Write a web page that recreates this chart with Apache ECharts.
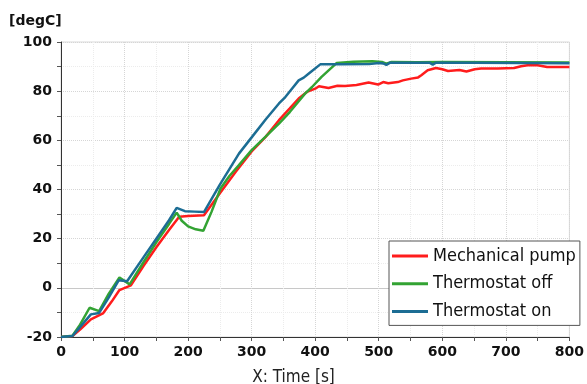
<!DOCTYPE html>
<html>
<head>
<meta charset="utf-8">
<script src="https://cdn.jsdelivr.net/npm/echarts@6/dist/echarts.min.js"></script>
<style>
  html, body { margin: 0; padding: 0; background: #fff; }
  #chart { width: 587px; height: 384px; }
</style>
</head>
<body>
<div id="chart"></div>
<script>
// Mechanical pump
const pumpTime = [0, 18, 30, 47, 66, 80, 92, 110, 130, 150, 170, 186, 200, 225, 250, 275, 300, 322, 343, 360, 374, 387, 400, 406, 421, 435, 447, 465, 484, 499, 507, 515, 530, 538, 551, 562, 567, 577, 590, 600, 609, 627, 638, 651, 661, 687, 713, 724, 734, 750, 765, 800];
const pumpTemp = [-20, -19.6, -17, -12.8, -10.4, -5.5, -0.9, 1, 9, 16.5, 23.5, 28.9, 29.2, 29.5, 38.5, 47.2, 55.5, 61.4, 68.2, 73, 77, 79.7, 81, 82, 81.3, 82.2, 82.1, 82.5, 83.5, 82.7, 83.7, 83.2, 83.7, 84.4, 85.1, 85.6, 86.5, 88.5, 89.4, 88.9, 88.2, 88.6, 88.0, 88.9, 89.2, 89.2, 89.4, 90.1, 90.5, 90.5, 89.8, 89.8];

// Thermostat off
const offTime = [0, 18, 30, 45, 60, 75, 92, 108, 130, 150, 170, 182, 190, 200, 212, 224, 237, 251, 265, 280, 300, 322, 343, 360, 384, 395, 410, 434, 460, 490, 505, 512, 520, 560, 600, 700, 800];
const offTemp = [-20, -19.5, -15, -8.1, -9.5, -2.5, 4.2, 1.4, 10.5, 18.5, 26, 30.6, 27.3, 25, 23.8, 23.2, 31, 40.4, 45.5, 49.9, 56.0, 61.5, 66.8, 71.5, 79, 81.7, 85.8, 91.5, 92, 92.2, 91.9, 91.2, 91.9, 91.8, 91.9, 91.8, 91.7];

// Thermostat on
const onTime = [0, 18, 30, 47, 60, 75, 91, 104, 130, 150, 170, 182, 195, 210, 225, 250, 280, 300, 322, 343, 353, 365, 374, 382, 390, 408, 440, 485, 500, 507, 512, 518, 560, 580, 585, 590, 650, 800];
const onTemp = [-20, -19.6, -16, -10.8, -10.2, -4, 3.1, 2.7, 12.5, 20, 27.5, 32.5, 31.2, 31, 30.8, 42, 54.6, 61.2, 68.5, 75, 77.6, 81.5, 84.4, 85.5, 87.2, 90.9, 90.9, 91.0, 91.5, 91.3, 90.7, 91.6, 91.6, 91.6, 90.8, 91.6, 91.6, 91.4];

const seriesNames = ['Mechanical pump', 'Thermostat off', 'Thermostat on'];
const seriesColors = ['#ff1c1c', '#33a333', '#1c6d94'];

const zip = (xs, ys) => xs.map((x, i) => [x, ys[i]]);
const seriesData = [zip(pumpTime, pumpTemp), zip(offTime, offTemp), zip(onTime, onTemp)];

const chart = echarts.init(document.getElementById('chart'), null, { renderer: 'canvas' });

const labelFont = {
  fontFamily: 'DejaVu Sans',
  fontWeight: 'bold',
  fontSize: 14,
  color: '#111'
};

chart.setOption({
  animation: false,
  backgroundColor: '#fff',
  title: [
    {
      text: '[degC]',
      left: 9,
      top: 14,
      padding: 0,
      textStyle: { fontFamily: 'DejaVu Sans', fontWeight: 'bold', fontSize: 14, color: '#111' }
    },
    {
      text: 'X: Time [s]',
      left: 'center',
      top: 369,
      padding: 0,
      textStyle: { fontFamily: 'DejaVu Sans Condensed, DejaVu Sans', fontWeight: 'normal', fontSize: 17, color: '#222' }
    }
  ],
  grid: {
    left: 61,
    right: 15,
    top: 42,
    bottom: 47,
    show: true,
    borderColor: '#d9d9d9',
    borderWidth: 1
  },
  legend: {
    orient: 'vertical',
    left: 389,
    top: 241,
    padding: [5, 4, 4, 3],
    itemWidth: 36,
    itemHeight: 3,
    itemGap: 7.7,
    icon: 'rect',
    borderColor: '#555',
    borderWidth: 1,
    backgroundColor: '#fff',
    textStyle: { fontFamily: 'DejaVu Sans Condensed, DejaVu Sans', fontSize: 18, lineHeight: 20, color: '#111' },
    data: seriesNames
  },
  xAxis: {
    type: 'value',
    min: 0,
    max: 800,
    interval: 100,
    axisLine: { show: true, onZero: false, lineStyle: { color: '#333', width: 1 } },
    axisTick: { show: true, length: 4, lineStyle: { color: '#555' } },
    minorTick: { show: true, splitNumber: 2, length: 4, lineStyle: { color: '#555' } },
    axisLabel: Object.assign({ margin: 8 }, labelFont),
    splitLine: { show: true, lineStyle: { type: 'dotted', color: '#d6d6d6' } },
    minorSplitLine: { show: true, lineStyle: { type: 'dotted', color: '#ececec' } }
  },
  yAxis: [
    {
      type: 'value',
      min: -20,
      max: 100,
      interval: 20,
      axisLine: { show: true, onZero: false, lineStyle: { color: '#333', width: 1 } },
      axisTick: { show: true, length: 4, lineStyle: { color: '#555' } },
      minorTick: { show: true, splitNumber: 2, length: 4, lineStyle: { color: '#555' } },
      axisLabel: Object.assign({ margin: 9 }, labelFont),
      splitLine: { show: true, lineStyle: { type: 'dotted', color: '#d6d6d6' } },
      minorSplitLine: { show: true, lineStyle: { type: 'dotted', color: '#ececec' } }
    },
    {
      // solid zero line
      type: 'value',
      min: -20,
      max: 100,
      interval: 20,
      position: 'left',
      axisLine: { show: false },
      axisTick: { show: false },
      axisLabel: { show: false },
      splitLine: {
        show: true,
        lineStyle: {
          type: 'solid',
          width: 1,
          color: ['transparent', '#c8c8c8', 'transparent', 'transparent', 'transparent', 'transparent', 'transparent']
        }
      }
    }
  ],
  series: seriesNames.map((name, i) => ({
    name: name,
    type: 'line',
    yAxisIndex: 0,
    showSymbol: false,
    symbol: 'none',
    color: seriesColors[i],
    lineStyle: { width: 2.5, color: seriesColors[i] },
    data: seriesData[i]
  }))
});
</script>
</body>
</html>
